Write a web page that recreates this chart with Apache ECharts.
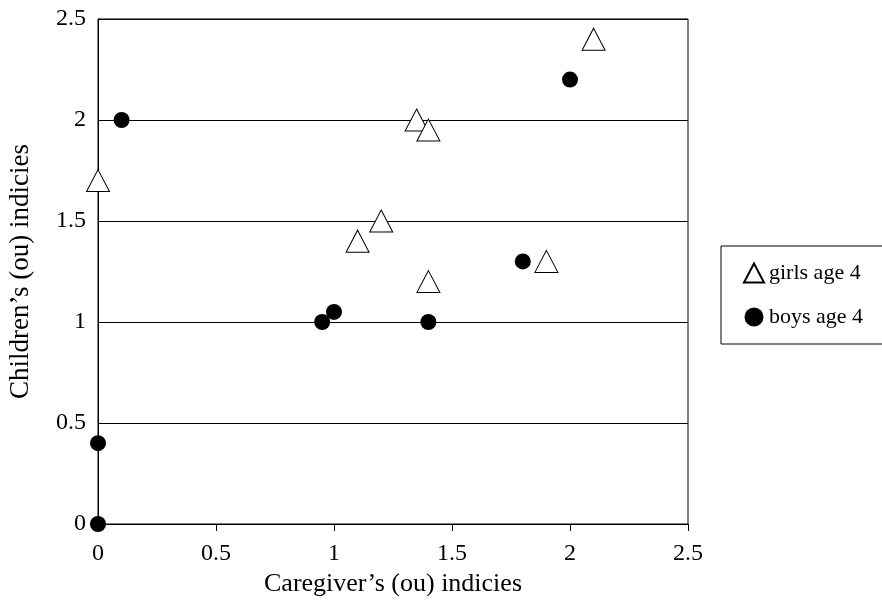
<!DOCTYPE html>
<html>
<head>
<meta charset="utf-8">
<script src="https://cdn.jsdelivr.net/npm/echarts@6/dist/echarts.min.js"></script>
<style>
  html, body { margin: 0; padding: 0; background: #fff; }
  #chart { width: 882px; height: 606px; }
</style>
</head>
<body>
<div id="chart"></div>
<script>
// girls age 4: [caregiver, children]
var girls = [
  [0, 1.7], [1.35, 2.0], [1.4, 1.95], [1.2, 1.5],
  [1.1, 1.4], [1.4, 1.2], [1.9, 1.3], [2.1, 2.4]
];
// boys age 4
var boys = [
  [0.1, 2.0], [2.0, 2.2], [1.8, 1.3], [0.95, 1.0],
  [1.0, 1.05], [1.4, 1.0], [0, 0.4], [0, 0]
];
var seriesNames = ["girls age 4", "boys age 4"];

var font = "Liberation Serif";
var chart = echarts.init(document.getElementById("chart"));

var option = {
  animation: false,
  backgroundColor: "#fff",
  textStyle: { fontFamily: font, color: "#000" },
  grid: {
    left: 98, right: 194, top: 19, bottom: 82,
    outerBoundsMode: "none",
    containLabel: false,
    show: true, borderColor: "#000", borderWidth: 1
  },
  legend: {
    data: seriesNames,
    orient: "vertical",
    left: 721, top: 246,
    padding: [16, 40, 16, 22],
    itemGap: 22,
    itemWidth: 20, itemHeight: 19,
    borderColor: "#000", borderWidth: 1,
    textStyle: { fontFamily: font, fontSize: 22, color: "#000" }
  },
  xAxis: {
    type: "value",
    min: 0, max: 2.5, interval: 0.5,
    name: "Caregiver’s (ou) indicies",
    nameLocation: "middle",
    nameGap: 47,
    nameTextStyle: { fontFamily: font, fontSize: 26, color: "#000" },
    axisLine: { show: true, lineStyle: { color: "#000", width: 1 } },
    axisTick: { show: true, inside: false, length: 7, lineStyle: { color: "#000" } },
    axisLabel: { fontFamily: font, fontSize: 24, color: "#000", margin: 18 },
    splitLine: { show: false }
  },
  yAxis: {
    type: "value",
    min: 0, max: 2.5, interval: 0.5,
    name: "Children’s (ou) indicies",
    nameLocation: "middle",
    nameGap: 64,
    nameRotate: 90,
    nameTextStyle: { fontFamily: font, fontSize: 27, color: "#000" },
    axisLine: { show: true, lineStyle: { color: "#000", width: 1 } },
    axisTick: { show: false },
    axisLabel: { fontFamily: font, fontSize: 24, color: "#000", margin: 12 },
    splitLine: { show: true, lineStyle: { color: "#000", width: 1 } }
  },
  series: [
    {
      name: seriesNames[0],
      type: "scatter",
      data: girls,
      symbol: "triangle",
      symbolSize: [23, 22],
      itemStyle: { color: "#fff", borderColor: "#000", borderWidth: 1, opacity: 1 },
      z: 3
    },
    {
      name: seriesNames[1],
      type: "scatter",
      data: boys,
      symbol: "circle",
      symbolSize: 16,
      itemStyle: { color: "#000", borderColor: "#000", borderWidth: 0, opacity: 1 },
      z: 4
    }
  ]
};
chart.setOption(option);
</script>
</body>
</html>
